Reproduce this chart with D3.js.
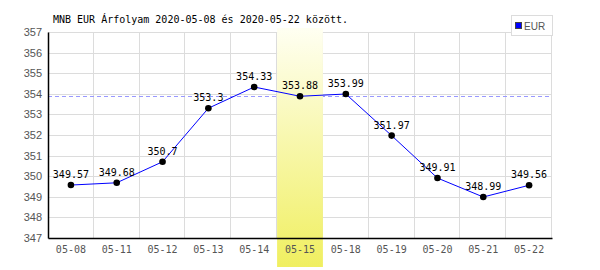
<!DOCTYPE html>
<html lang="hu">
<head>
<meta charset="UTF-8">
<title>MNB EUR Árfolyam</title>
<script src="https://d3js.org/d3.v7.min.js"></script>
<style>
  body { margin: 0; background: #fff; }
  svg { display: block; }
  .mono { font-family: "DejaVu Sans Mono", "Liberation Mono", monospace; }
  .tick text { fill: #555; }
</style>
</head>
<body>
<svg width="600" height="270"></svg>
<script>
const dates = ["05-08", "05-11", "05-12", "05-13", "05-14", "05-15", "05-18", "05-19", "05-20", "05-21", "05-22"];
const rates = [349.57, 349.68, 350.7, 353.3, 354.33, 353.88, 353.99, 351.97, 349.91, 348.99, 349.56];
const yTicks = [347, 348, 349, 350, 351, 352, 353, 354, 355, 356, 357];
const refRate = 353.88;
const highlightDate = "05-15";
const title = "MNB EUR Árfolyam 2020-05-08 és 2020-05-22 között.";
const seriesName = "EUR";

const svg = d3.select("svg");
const plotL = 48, plotR = 552, plotT = 32, plotB = 238;

const x = d3.scaleBand().domain(dates).range([plotL, plotR]).padding(0);
const y = d3.scaleLinear().domain([347, 357]).range([plotB, plotT]);

// gradient for highlighted day
const grad = svg.append("defs").append("linearGradient")
  .attr("id", "hl").attr("x1", 0).attr("y1", 0).attr("x2", 0).attr("y2", 1);
grad.append("stop").attr("offset", "0%").attr("stop-color", "#fffff2");
grad.append("stop").attr("offset", "100%").attr("stop-color", "#f0ef60");

// grid
svg.append("g").selectAll("line")
  .data(yTicks.slice(1))
  .join("line")
  .attr("x1", plotL).attr("x2", plotR)
  .attr("y1", d => Math.round(y(d)) + 0.5).attr("y2", d => Math.round(y(d)) + 0.5)
  .attr("stroke", "#dcdcdc");

svg.append("g").selectAll("line")
  .data(dates)
  .join("line")
  .attr("x1", d => Math.round(x(d) + x.bandwidth()) - 0.5)
  .attr("x2", d => Math.round(x(d) + x.bandwidth()) - 0.5)
  .attr("y1", plotT).attr("y2", plotB)
  .attr("stroke", "#dcdcdc");

// reference line
svg.append("line")
  .attr("x1", plotL).attr("x2", plotR)
  .attr("y1", Math.round(y(refRate)) + 0.5).attr("y2", Math.round(y(refRate)) + 0.5)
  .attr("stroke", "#9999ff")
  .attr("stroke-dasharray", "4,3");

// highlight band
svg.append("rect")
  .attr("x", x(highlightDate))
  .attr("y", 28)
  .attr("width", x.bandwidth())
  .attr("height", 267 - 28)
  .attr("fill", "url(#hl)");

// axes
const yAxis = svg.append("g")
  .attr("transform", `translate(${plotL},0)`)
  .call(d3.axisLeft(y).tickValues(yTicks).tickSize(0).tickPadding(6).tickFormat(d3.format("d")));
yAxis.select(".domain").attr("stroke", "#000").attr("stroke-width", 1.5);
yAxis.selectAll("text").style("font-family", "'Liberation Sans', Arial, sans-serif").style("font-size", "11px");

const xAxis = svg.append("g")
  .attr("transform", `translate(0,${plotB})`)
  .call(d3.axisBottom(x).tickSize(0).tickPadding(6));
xAxis.select(".domain").attr("stroke", "#000").attr("stroke-width", 1.5);
xAxis.selectAll("text").attr("class", "mono").style("font-size", "10px").attr("dy", "0.9em");

// series line
svg.append("path")
  .datum(rates)
  .attr("fill", "none")
  .attr("stroke", "#0000ff")
  .attr("stroke-width", 1)
  .attr("d", d3.line().x((d, i) => x(dates[i]) + x.bandwidth() / 2).y(d => y(d)));

svg.append("g").selectAll("circle")
  .data(rates)
  .join("circle")
  .attr("cx", (d, i) => x(dates[i]) + x.bandwidth() / 2)
  .attr("cy", d => y(d))
  .attr("r", 3.3)
  .attr("fill", "#000");

svg.append("g").selectAll("text")
  .data(rates)
  .join("text")
  .attr("class", "mono")
  .attr("x", (d, i) => x(dates[i]) + x.bandwidth() / 2)
  .attr("y", d => y(d) - 7)
  .attr("text-anchor", "middle")
  .style("font-size", "10px")
  .attr("fill", "#000")
  .text(d => String(d));

// title
svg.append("text")
  .attr("class", "mono")
  .attr("x", 53)
  .attr("y", 23)
  .style("font-size", "10px")
  .attr("fill", "#000")
  .text(title);

// legend
const lg = svg.append("g");
lg.append("rect")
  .attr("x", 511.5).attr("y", 15.5).attr("width", 41).attr("height", 20)
  .attr("fill", "#fff").attr("stroke", "#dcdcdc");
lg.append("rect")
  .attr("x", 515.5).attr("y", 22.5).attr("width", 6).attr("height", 6)
  .attr("fill", "#0000ff").attr("stroke", "#444");
lg.append("text")
  .attr("x", 524).attr("y", 29.5)
  .style("font-family", "'Liberation Sans', Arial, sans-serif")
  .style("font-size", "10px")
  .attr("fill", "#555")
  .text(seriesName);
</script>
</body>
</html>
